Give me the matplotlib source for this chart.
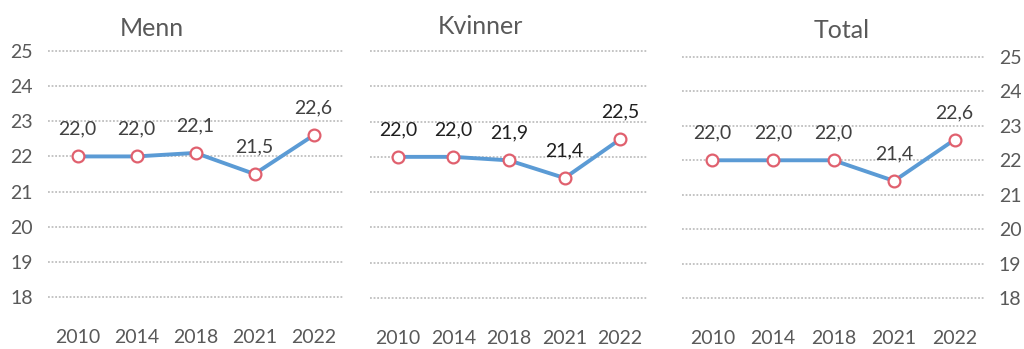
import matplotlib
matplotlib.use("Agg")
import matplotlib.pyplot as plt

plt.rcParams.update({
    "font.family": ["Lato", "DejaVu Sans"],
    "font.size": 14,
})

years = ["2010", "2014", "2018", "2021", "2022"]
menn = [22.0, 22.0, 22.1, 21.5, 22.6]
kvinner = [22.0, 22.0, 21.9, 21.4, 22.5]
total = [22.0, 22.0, 22.0, 21.4, 22.6]
y_ticks = [18, 19, 20, 21, 22, 23, 24, 25]

W, H = 1024, 349
LINE = "#5B9BD5"
MARK = "#E0606E"
GRID = "#BFBFBF"
TICK = "#595959"
FS = 14


def px_axes(fig, x0, x1, ytop, ybot):
    return fig.add_axes([x0 / W, (H - ybot) / H, (x1 - x0) / W, (ybot - ytop) / H])


def draw_panel(ax, values, label_color, side):
    xs = range(len(years))
    ax.set_xlim(-0.5, len(years) - 0.5)
    ax.set_ylim(18, 25)
    for y in y_ticks:
        ax.axhline(y, color=GRID, linestyle=(0, (1, 1)), linewidth=1.3, zorder=1, clip_on=False)
    ax.plot(xs, values, color=LINE, linewidth=2.8, zorder=2,
            marker="o", markersize=8.5, markerfacecolor="white",
            markeredgecolor=MARK, markeredgewidth=1.6)
    for x, v in zip(xs, values):
        ax.annotate(f"{v:.1f}".replace(".", ","), (x, v), xytext=(0, 19.5),
                    textcoords="offset points", ha="center", va="center",
                    color=label_color, fontsize=FS)
    ax.set_xticks(list(xs))
    ax.set_xticklabels(years)
    ax.tick_params(axis="x", length=0, pad=23, colors=TICK, labelsize=FS)
    if side == "left":
        ax.set_yticks(y_ticks)
        ax.tick_params(axis="y", length=0, pad=11, colors=TICK, labelsize=FS)
    elif side == "right":
        ax.yaxis.tick_right()
        ax.set_yticks(y_ticks)
        ax.tick_params(axis="y", length=0, pad=10, colors=TICK, labelsize=FS)
    else:
        ax.set_yticks([])
    for s in ax.spines.values():
        s.set_visible(False)
    ax.set_facecolor("none")


fig = plt.figure(figsize=(W / 100, H / 100), dpi=100)

ax1 = px_axes(fig, 48, 343, 51, 297)
draw_panel(ax1, menn, "#404040", "left")
ax2 = px_axes(fig, 370, 648, 51, 298)
draw_panel(ax2, kvinner, "#1F1F1F", None)
ax3 = px_axes(fig, 682, 985, 57, 298)
draw_panel(ax3, total, "#404040", "right")

for name, cx, cy in [("Menn", 152, 28), ("Kvinner", 480, 27), ("Total", 842, 30)]:
    fig.text(cx / W, 1 - cy / H, name, ha="center", va="center", fontsize=18, color=TICK)

fig.savefig("out.png", dpi=100)
